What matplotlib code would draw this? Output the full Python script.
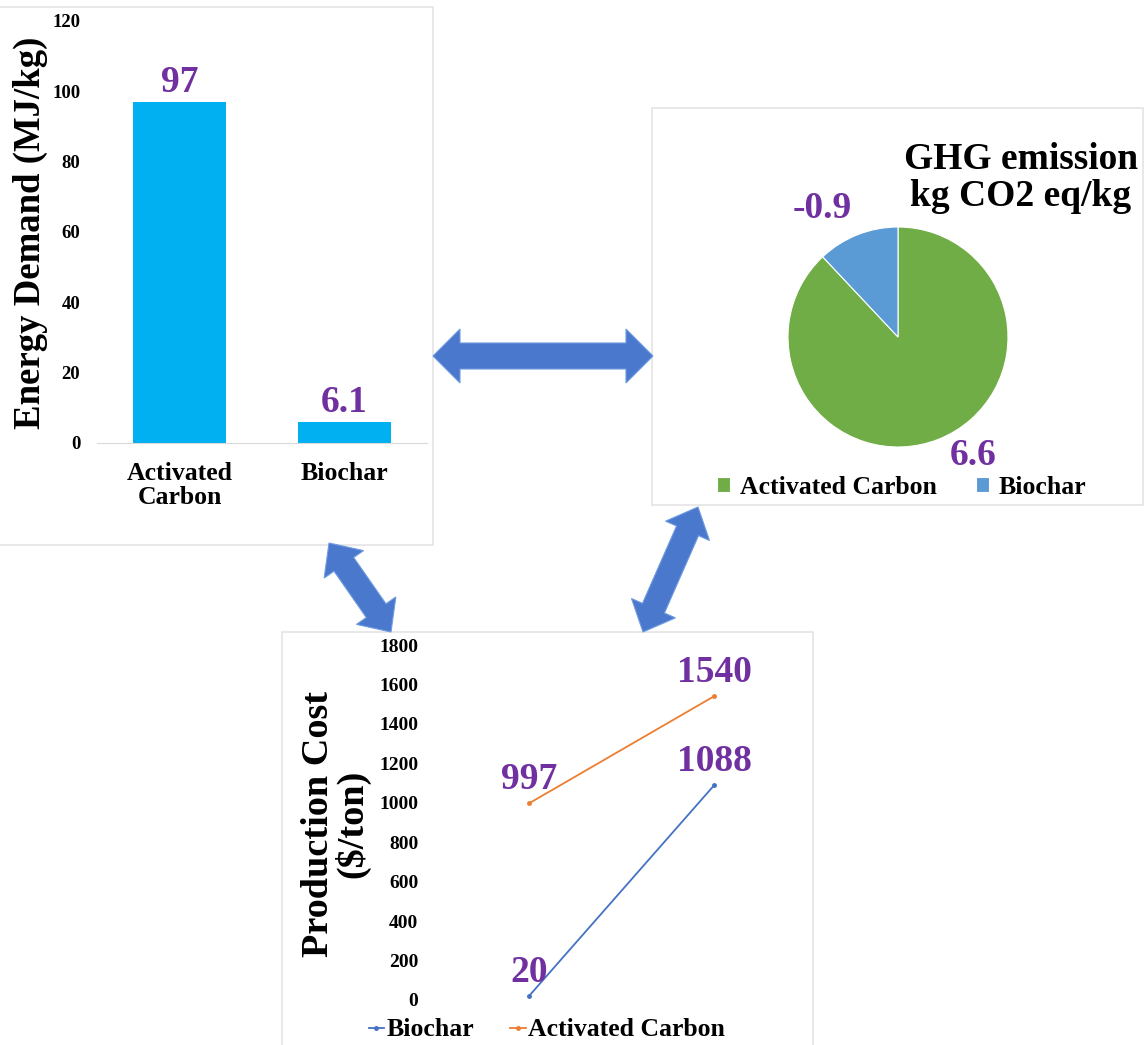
import numpy as np
import matplotlib.pyplot as plt
from matplotlib.patches import Polygon, Rectangle

# Energy demand per kg of product
energy_categories = ["Activated\nCarbon", "Biochar"]
energy_values = [97, 6.1]

# GHG emission (kg CO2 eq/kg)
ghg_labels = ["Activated Carbon", "Biochar"]
ghg_values = [6.6, -0.9]

# Production cost ($/ton), low and high estimates
cost_points = [0, 1]
biochar_cost = [20, 1088]
activated_cost = [997, 1540]

W, H = 1148, 1045
PURPLE = "#7030A0"
ARROW = "#4A78CC"
BORDER = "#e4e4e4"

plt.rcParams["font.family"] = ["Liberation Serif", "DejaVu Serif"]
plt.rcParams["font.weight"] = "bold"

fig = plt.figure(figsize=(W / 100, H / 100), dpi=100)


def px_axes(x, y, w, h):
    # axes placed by pixel box, y measured from the top
    return fig.add_axes([x / W, 1 - (y + h) / H, w / W, h / H])


def px_rect(x0, y0, x1, y1):
    fig.patches.append(Rectangle((x0 / W, 1 - y1 / H), (x1 - x0) / W, (y1 - y0) / H,
                                 transform=fig.transFigure, fill=False,
                                 edgecolor=BORDER, lw=1.2, zorder=0))


def double_arrow(p0, p1, shaft=26, head=54, head_len=27):
    p0, p1 = np.array(p0, float), np.array(p1, float)
    d = p1 - p0
    L = np.hypot(*d)
    u = d / L
    n = np.array([-u[1], u[0]])
    s, hh = shaft / 2, head / 2
    pts = [p0,
           p0 + u * head_len + n * hh, p0 + u * head_len + n * s,
           p1 - u * head_len + n * s, p1 - u * head_len + n * hh,
           p1,
           p1 - u * head_len - n * hh, p1 - u * head_len - n * s,
           p0 + u * head_len - n * s, p0 + u * head_len - n * hh]
    pts = [(x / W, 1 - y / H) for x, y in pts]
    fig.patches.append(Polygon(pts, closed=True, transform=fig.transFigure,
                               facecolor=ARROW, edgecolor="#6f9be0", lw=0.8, zorder=1))


# panel frames
px_rect(-2, 7, 433, 545)
px_rect(652, 108, 1143, 505)
px_rect(282, 632, 813, 1047)

# ---- bar chart: energy demand ----
ax1 = px_axes(97, 21, 330, 422)
x = np.arange(len(energy_values))
bars = ax1.bar(x, energy_values, width=0.56, color="#00B0F0")
ax1.bar_label(bars, labels=[f"{v:g}" for v in energy_values], padding=1,
              color=PURPLE, fontsize=27, fontweight="bold")
ax1.set_xlim(-0.5, 1.5)
ax1.set_ylim(0, 120)
ax1.set_yticks(range(0, 121, 20))
ax1.set_xticks(x)
ax1.set_xticklabels(energy_categories, fontsize=18.5, linespacing=1.05)
ax1.tick_params(axis="y", length=0, pad=12, labelsize=13.5)
ax1.tick_params(axis="x", length=0, pad=14)
for side in ["left", "right", "top"]:
    ax1.spines[side].set_visible(False)
ax1.spines["bottom"].set_color("#d9d9d9")
fig.text(30 / W, 1 - 233 / H, "Energy Demand (MJ/kg)", rotation=90,
         ha="center", va="center", fontsize=26.5, fontweight="bold")

# ---- pie chart: GHG emission ----
ax2 = px_axes(788, 227, 220, 220)
wedges, _ = ax2.pie(np.abs(ghg_values), colors=["#70AD47", "#5B9BD5"],
                    startangle=90, counterclock=False,
                    wedgeprops=dict(edgecolor="white", linewidth=0.8))
ax2.set_xlim(-1, 1)
ax2.set_ylim(-1, 1)
ax2.set_aspect("equal")
ax2.text(-0.69, 1.17, f"{ghg_values[1]:g}", color=PURPLE, fontsize=27,
         ha="center", va="center", clip_on=False)
ax2.text(0.68, -1.08, f"{ghg_values[0]:g}", color=PURPLE, fontsize=27,
         ha="center", va="center", clip_on=False)
fig.text(1021 / W, 1 - 178 / H, "GHG emission\nkg CO2 eq/kg", ha="center",
         va="center", fontsize=27, fontweight="bold", linespacing=1.05)
fig.legend(wedges, ghg_labels, loc="center", bbox_to_anchor=(902 / W, 1 - 487 / H),
           ncol=2, frameon=False, fontsize=18.5, handlelength=0.5, handleheight=0.5,
           handletextpad=0.4, columnspacing=1.5)

# ---- line chart: production cost ----
ax3 = px_axes(436.5, 645, 370, 355)
l1, = ax3.plot(cost_points, biochar_cost, color="#4472C4", lw=1.3, marker="o", ms=2.5)
l2, = ax3.plot(cost_points, activated_cost, color="#ED7D31", lw=1.3, marker="o", ms=2.5)
for series in (biochar_cost, activated_cost):
    for xi, yi in zip(cost_points, series):
        ax3.annotate(f"{yi}", (xi, yi), xytext=(0, 24), textcoords="offset pixels",
                     ha="center", va="center", color=PURPLE, fontsize=27,
                     fontweight="bold", annotation_clip=False)
ax3.set_xlim(-0.5, 1.5)
ax3.set_ylim(0, 1800)
ax3.set_yticks(range(0, 1801, 200))
ax3.set_xticks([])
ax3.tick_params(axis="y", length=0, pad=13, labelsize=14)
for side in ax3.spines:
    ax3.spines[side].set_visible(False)
fig.text(336 / W, 1 - 824 / H, "Production Cost\n($/ton)", rotation=90,
         ha="center", va="center", fontsize=27.5, fontweight="bold", linespacing=0.95)
fig.legend([l1, l2], ["Biochar", "Activated Carbon"], loc="center",
           bbox_to_anchor=(547 / W, 1 - 1030 / H), ncol=2, frameon=False,
           fontsize=18.5, handlelength=0.6, handletextpad=0.1, columnspacing=1.4)

# ---- connecting arrows ----
double_arrow((433, 356), (653, 356))
double_arrow((329, 543), (391, 632), shaft=24, head=48, head_len=26)
double_arrow((698, 507), (643, 632), shaft=24, head=48, head_len=26)

fig.savefig("out.png", dpi=100, facecolor="white")
